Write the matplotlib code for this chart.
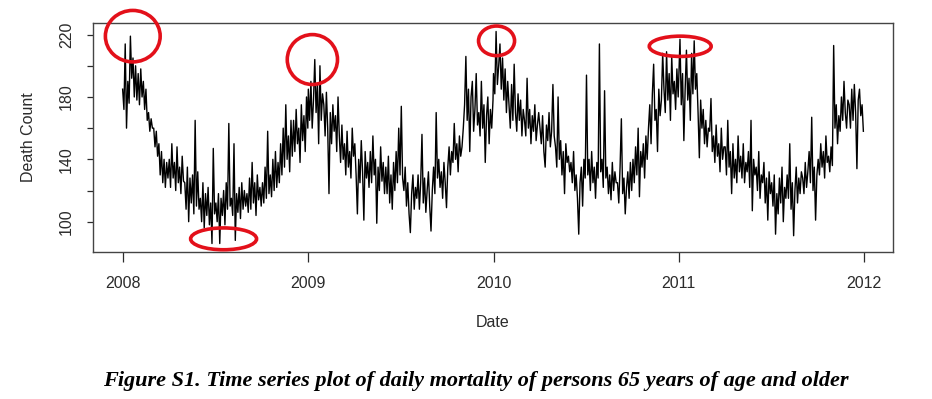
import numpy as np
import pandas as pd
import matplotlib
matplotlib.use("Agg")
import matplotlib.pyplot as plt
import matplotlib.dates as mdates
from matplotlib.patches import Ellipse

# =========================
# Data: death counts, about every 2-3 days (12 per month)
# =========================
deaths_2008 = [
    185, 172, 214, 160, 190, 176, 219, 192, 205, 180, 200, 178,   # Jan
    195, 175, 198, 180, 190, 172, 185, 165, 170, 158, 166, 160,   # Feb
    160, 148, 158, 142, 150, 130, 145, 125, 140, 122, 138, 128,   # Mar
    140, 122, 150, 128, 138, 120, 148, 125, 135, 118, 142, 126,   # Apr
    125, 108, 135, 100, 128, 112, 130, 105, 165, 110, 132, 108,   # May
    115, 100, 125, 96, 118, 104, 122, 98, 112, 86, 147, 105,      # Jun
    112, 100, 118, 86, 115, 104, 120, 98, 125, 108, 163, 110,     # Jul
    115, 104, 150, 88, 118, 106, 122, 102, 125, 108, 120, 110,    # Aug
    118, 106, 128, 108, 138, 112, 125, 104, 130, 114, 122, 110,   # Sep
    125, 112, 135, 115, 158, 118, 130, 116, 140, 120, 145, 122,   # Oct
    138, 125, 150, 130, 160, 135, 175, 140, 155, 132, 165, 142,   # Nov
    165, 145, 172, 150, 160, 138, 175, 152, 168, 145, 180, 160,   # Dec
]
deaths_2009 = [
    185, 165, 190, 160, 178, 204, 170, 188, 150, 200, 165, 182,
    175, 155, 183, 160, 118, 170, 150, 175, 158, 168, 145, 180,
    155, 138, 162, 140, 150, 130, 158, 135, 145, 128, 160, 142,
    150, 130, 105, 140, 125, 152, 132, 101, 145, 128, 138, 122,
    145, 125, 155, 130, 140, 99, 135, 120, 148, 126, 138, 118,
    135, 118, 142, 112, 130, 108, 138, 120, 145, 125, 160, 130,
    174, 128, 120, 135, 110, 125, 105, 93, 118, 130, 108, 122,
    115, 130, 108, 125, 156, 112, 128, 106, 120, 132, 110, 94,
    120, 135, 118, 170, 128, 140, 122, 132, 115, 138, 125, 109,
    135, 148, 130, 145, 138, 163, 140, 150, 132, 155, 142, 148,
    160, 175, 206, 165, 185, 145, 180, 190, 158, 172, 195, 162,
    170, 155, 190, 160, 175, 138, 168, 180, 150, 172, 160, 178,
]
deaths_2010 = [
    195, 182, 222, 188, 200, 214, 185, 205, 178, 198, 170, 190,
    175, 160, 188, 165, 201, 170, 158, 182, 165, 178, 155, 172,
    165, 155, 192, 160, 172, 150, 168, 158, 175, 152, 162, 170,
    160, 150, 168, 145, 135, 162, 152, 170, 148, 158, 188, 155,
    148, 135, 180, 140, 152, 130, 145, 118, 150, 138, 142, 132,
    138, 125, 145, 120, 130, 115, 92, 125, 135, 110, 140, 128,
    194, 130, 140, 120, 145, 125, 135, 115, 138, 128, 214, 132,
    140, 122, 184, 128, 135, 118, 130, 114, 138, 120, 132, 125,
    125, 112, 135, 166, 118, 128, 105, 122, 132, 115, 138, 120,
    140, 125, 148, 130, 160, 116, 145, 135, 150, 128, 155, 140,
    160, 175, 150, 182, 201, 165, 172, 145, 185, 168, 178, 208,
    185, 170, 209, 178, 195, 165, 206, 182, 190, 172, 198, 180,
]
deaths_2011 = [
    190, 217, 175, 195, 152, 185, 210, 178, 192, 165, 208, 182,
    216, 185, 195, 170, 141, 178, 160, 172, 150, 165, 148, 160,
    158, 179, 145, 155, 138, 162, 142, 150, 132, 160, 140, 148,
    148, 130, 165, 135, 145, 118, 150, 128, 140, 125, 155, 132,
    142, 128, 150, 125, 138, 132, 145, 122, 165, 107, 140, 130,
    135, 120, 145, 115, 130, 125, 138, 112, 128, 101, 132, 118,
    125, 110, 130, 92, 118, 105, 128, 112, 135, 100, 122, 115,
    130, 115, 150, 108, 125, 91, 120, 135, 112, 128, 118, 132,
    128, 118, 138, 122, 132, 145, 125, 167, 120, 135, 101, 130,
    140, 130, 150, 135, 145, 128, 155, 138, 142, 132, 148, 136,
    213, 160, 175, 150, 168, 158, 180, 165, 190, 170, 160, 178,
    175, 160, 185, 165, 188, 170, 134, 178, 185, 168, 175, 158,
]
years = [2008, 2009, 2010, 2011]
tick_years = [2008, 2009, 2010, 2011, 2012]
ytick_values = [100, 120, 140, 160, 180, 200, 220]
ytick_labels = ["100", "", "140", "", "180", "", "220"]

# hand-drawn red circles on the scan (centre date, centre value, width in days, height)
circle_dates = ["2008-01-21", "2008-07-18", "2009-01-09", "2010-01-07", "2011-01-04"]
circle_values = [219, 89, 204, 216, 212.5]
circle_widths = [108, 130, 99, 71, 122]
circle_heights = [33, 14, 32, 19, 13]

caption = ("Figure S1. Time series plot of daily mortality of persons "
           "65 years of age and older")

# =========================
# Build series
# =========================
parts = []
for year, vals in zip(years, [deaths_2008, deaths_2009, deaths_2010, deaths_2011]):
    idx = pd.date_range(f"{year}-01-01", f"{year}-12-31", periods=len(vals))
    parts.append(pd.Series(vals, index=idx))
series = pd.concat(parts)

plt.rcParams["font.family"] = ["Liberation Sans", "DejaVu Sans"]

fig = plt.figure(figsize=(9.32, 3.99), dpi=100)
ax = fig.add_axes([93 / 932, 1 - 252 / 399, 800 / 932, 229 / 399])

ax.plot(series.index, series.values, color="black", lw=1.0)

# R-style 4% padding
x0 = mdates.date2num(series.index[0])
x1 = mdates.date2num(series.index[-1])
xpad = 0.04 * (x1 - x0)
ax.set_xlim(x0 - xpad, x1 + xpad)
lo, hi = series.min(), series.max()
ypad = 0.04 * (hi - lo)
ax.set_ylim(lo - ypad, hi + ypad)

ax.set_xticks([mdates.date2num(pd.Timestamp(f"{y}-01-01")) for y in tick_years])
ax.set_xticklabels([str(y) for y in tick_years])
ax.set_yticks(ytick_values)
ax.set_yticklabels(ytick_labels, rotation=90, va="center")

text_color = "#2b2b2b"
ax.tick_params(axis="x", length=7, width=0.9, pad=10, labelsize=11.5,
               colors=text_color)
ax.tick_params(axis="y", length=4.5, width=0.9, pad=9, labelsize=11.5,
               colors=text_color)
for sp in ax.spines.values():
    sp.set_color("#444444")
    sp.set_linewidth(1.0)

ax.set_ylabel("Death Count", fontsize=11.5, color=text_color)
ax.yaxis.set_label_coords(-57 / 800, 0.5)
ax.set_xlabel("Date", fontsize=11.5, color=text_color)
ax.xaxis.set_label_coords(0.5, -63 / 229)

# red annotation circles
for d, v, w, h in zip(circle_dates, circle_values, circle_widths, circle_heights):
    e = Ellipse((mdates.date2num(pd.Timestamp(d)), v), w, h, fill=False,
                edgecolor="#e3101a", lw=2.6, clip_on=False, zorder=5)
    ax.add_patch(e)

fig.text(476 / 932, 1 - 381 / 399, caption, ha="center", va="center",
         fontsize=16, fontweight="bold", fontstyle="italic",
         family=["Liberation Serif", "DejaVu Serif"])

fig.savefig("out.png", dpi=100)
